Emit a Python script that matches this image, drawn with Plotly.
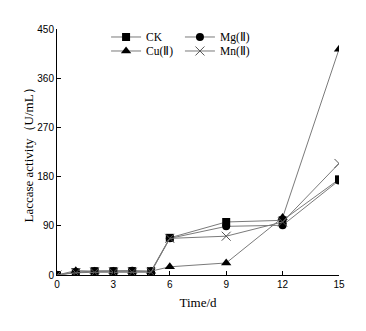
import plotly.graph_objects as go

days = [0, 1, 2, 3, 4, 5, 6, 9, 12, 15]
ck = [0, 5, 7, 7, 7, 7, 68, 97, 100, 175]
mg = [0, 5, 7, 7, 8, 6, 67, 89, 91, 173]
cu = [0, 8, 7, 7, 7, 7, 15, 22, 105, 413]
mn = [0, 4, 5, 5, 5, 5, 67, 71, 97, 204]

x_ticks = [0, 3, 6, 9, 12, 15]
y_ticks = [0, 90, 180, 270, 360, 450]

series = [
    ("CK", ck, dict(symbol="square", size=8, color="black"), "legend"),
    ("Mg(Ⅱ)", mg, dict(symbol="circle", size=8, color="black"), "legend2"),
    ("Cu(Ⅱ)", cu, dict(symbol="triangle-up", size=9, color="black"), "legend3"),
    ("Mn(Ⅱ)", mn, dict(symbol="x-thin-open", size=9, color="#555",
                       line=dict(width=1, color="#555")), "legend4"),
]

fig = go.Figure()
for name, vals, mk, lg in series:
    fig.add_trace(go.Scatter(
        x=days, y=vals, name=name, mode="lines+markers",
        line=dict(color="#7a7a7a", width=1), marker=mk, legend=lg,
    ))

serif = "Liberation Serif"
sans = "Liberation Sans"

def leg(x, y):
    return dict(
        x=x, y=y, xanchor="left", yanchor="middle",
        font=dict(family=serif, size=11.5, color="black"),
        bgcolor="rgba(0,0,0,0)", itemwidth=30,
    )

fig.update_layout(
    width=366, height=331,
    margin=dict(l=57, r=27, t=29, b=56),
    plot_bgcolor="white", paper_bgcolor="white",
    showlegend=True,
    legend=leg(0.174, 0.9675),
    legend2=leg(0.436, 0.9675),
    legend3=leg(0.174, 0.9106),
    legend4=leg(0.436, 0.9106),
    xaxis=dict(
        range=[0, 15], tickvals=x_ticks, ticks="inside", ticklen=4,
        tickcolor="black", showline=True, linecolor="black", linewidth=1,
        showgrid=False, zeroline=False, automargin=False,
        tickfont=dict(family=sans, size=10, color="black"),
        title=dict(text="Time/d", font=dict(family=serif, size=13, color="black"), standoff=8),
    ),
    yaxis=dict(
        range=[0, 450], tickvals=y_ticks, ticks="inside", ticklen=4,
        tickcolor="black", showline=True, linecolor="black", linewidth=1,
        showgrid=False, zeroline=False, automargin=False,
        tickfont=dict(family=sans, size=10, color="black"),
        title=dict(text="Laccase activity（U/mL）", font=dict(family=serif, size=13, color="black"), standoff=0),
    ),
)

fig.write_html("out.html", config={"displayModeBar": False},
               post_script="document.body.style.margin='0';")
